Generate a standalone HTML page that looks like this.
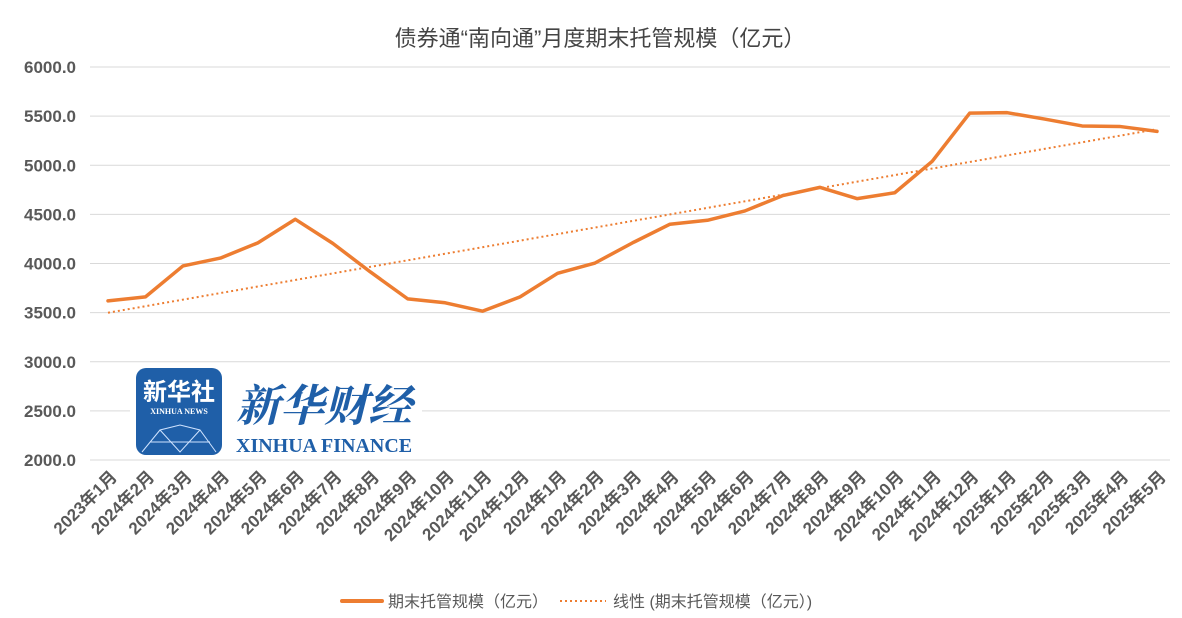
<!DOCTYPE html>
<html><head><meta charset="utf-8"><style>
body{margin:0;background:#fff;width:1182px;height:618px;overflow:hidden;font-family:"Liberation Sans","Noto Sans CJK SC",sans-serif}
</style></head><body>
<svg id="chart" width="1182" height="618" xmlns="http://www.w3.org/2000/svg" style="position:absolute;left:0;top:0">
<text x="600" y="46" text-anchor="middle" font-size="22" fill="#444" font-family="Liberation Sans,Noto Sans CJK SC,sans-serif">债券通“南向通”月度期末托管规模（亿元）</text>
<g id="grid"></g>
<g id="yticks"></g>
<g id="xticks"></g>
<g id="series"></g>
<g>
<rect x="130" y="364" width="292" height="94" fill="#fff"/>
<rect x="136" y="368" width="86" height="87" rx="10" fill="#1f5fa8"/>
<text x="179" y="400" text-anchor="middle" font-size="24" font-weight="bold" fill="#fff" font-family="Noto Sans CJK SC,sans-serif">新华社</text>
<text x="179" y="414" text-anchor="middle" font-size="8" font-weight="bold" fill="#fff" font-family="Liberation Serif,serif">XINHUA NEWS</text>
<path d="M142 452 L160 430 L180 425 L200 430 L216 452 M160 430 L180 452 L200 430 M150 442 L210 442" stroke="#cfe3ff" stroke-width="1" fill="none"/>
<text x="236" y="421" font-size="44" font-style="italic" font-weight="bold" fill="#1f5fa8" font-family="Noto Serif CJK SC,serif">新华财经</text>
<text x="236" y="452" font-size="20" font-weight="bold" fill="#1f5fa8" font-family="Liberation Serif,serif">XINHUA FINANCE</text>
</g>
<g>
<line x1="342" y1="601" x2="382" y2="601" stroke="#ed7d31" stroke-width="4" stroke-linecap="round"/>
<text x="388" y="607" font-size="16" fill="#595959">期末托管规模（亿元）</text>
<line x1="560" y1="601" x2="606" y2="601" stroke="#ed7d31" stroke-width="2" stroke-dasharray="2,3"/>
<text x="613" y="607" font-size="16" fill="#595959">线性 (期末托管规模（亿元）)</text>
</g>
</svg>
<script>
const categories=["2023年1月","2024年2月","2024年3月","2024年4月","2024年5月","2024年6月","2024年7月","2024年8月","2024年9月","2024年10月","2024年11月","2024年12月","2024年1月","2024年2月","2024年3月","2024年4月","2024年5月","2024年6月","2024年7月","2024年8月","2024年9月","2024年10月","2024年11月","2024年12月","2025年1月","2025年2月","2025年3月","2025年4月","2025年5月"];
const values=[3620,3660,3975,4055,4210,4450,4205,3915,3640,3600,3515,3660,3900,4005,4210,4400,4440,4535,4690,4775,4660,4720,5040,5530,5535,5470,5400,5395,5345];
const yTicks=[2000,2500,3000,3500,4000,4500,5000,5500,6000];
const NS="http://www.w3.org/2000/svg";
const x0=108,x1=1157,yTop=67,yBot=460,ymin=2000,ymax=6000;
const X=i=>x0+i*(x1-x0)/(categories.length-1);
const Y=v=>yBot-(v-ymin)/(ymax-ymin)*(yBot-yTop);
function mk(t,a,p){const e=document.createElementNS(NS,t);for(const k in a)e.setAttribute(k,a[k]);p.appendChild(e);return e;}
const grid=document.getElementById('grid'),yt=document.getElementById('yticks'),xt=document.getElementById('xticks'),s=document.getElementById('series');
yTicks.forEach(v=>{
const l=mk('line',{x1:90,x2:1170,y1:Y(v),y2:Y(v),stroke:'#d9d9d9','stroke-width':1},grid);


const t=mk('text',{x:76,y:Y(v)+6,'text-anchor':'end','font-size':17,'font-weight':'bold',fill:'#595959'},yt);
t.textContent=v.toFixed(1);


});
categories.forEach((c,i)=>{
const t=mk('text',{x:X(i)+10,y:478,'text-anchor':'end','font-size':17,'font-weight':'bold',fill:'#595959',transform:`rotate(-45 ${X(i)+10} 478)`},xt);
t.textContent=c;


});
const n=values.length;let sx=0,sy=0,sxy=0,sxx=0;
values.forEach((v,i)=>{sx+=i;sy+=v;sxy+=i*v;sxx+=i*i;});
const b=(n*sxy-sx*sy)/(n*sxx-sx*sx),a=(sy-b*sx)/n;
const tr=mk('line',{x1:X(0),y1:Y(a),x2:X(n-1),y2:Y(a+b*(n-1)),stroke:'#ed7d31','stroke-width':2,'stroke-dasharray':'2,3'},s);


const pl=mk('polyline',{points:values.map((v,i)=>X(i)+','+Y(v)).join(' '),fill:'none',stroke:'#ed7d31','stroke-width':3.5,'stroke-linejoin':'round','stroke-linecap':'round'},s);


</script>
</body></html>
